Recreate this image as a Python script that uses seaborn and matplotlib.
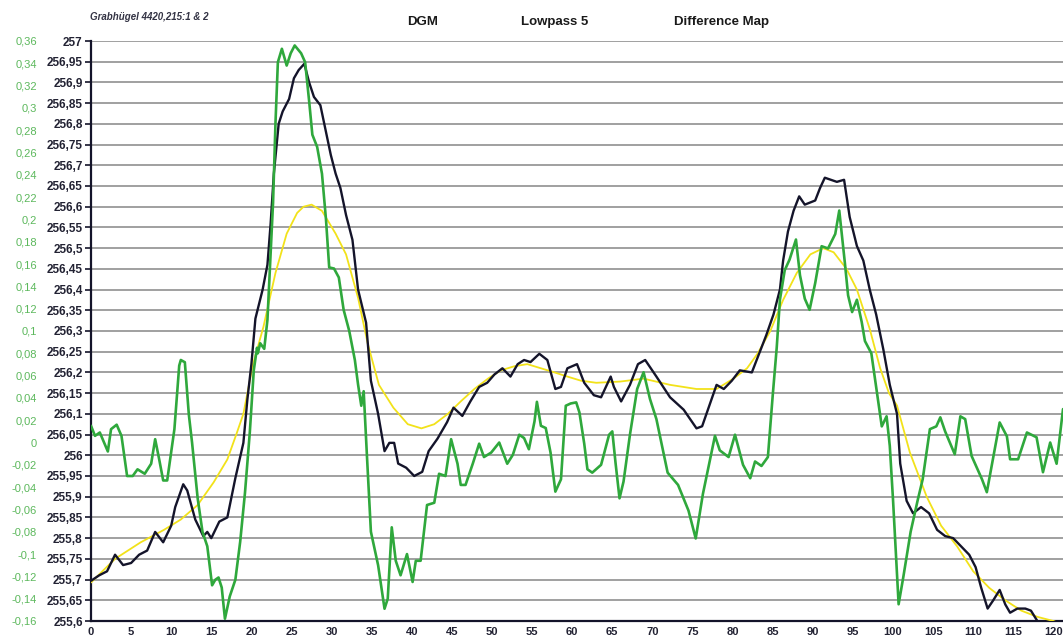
import numpy as np
import pandas as pd
import matplotlib
matplotlib.use("Agg")
import matplotlib.pyplot as plt
import seaborn as sns

# DGM profile (left axis, m)
dgm_x = [0, 1, 2, 3, 4, 5, 6, 7, 8, 9, 10, 10.5, 11.5, 12, 13, 14, 14.5, 15, 16, 17,
         18, 19, 19.5, 20, 20.5, 21.4, 22, 22.4, 22.8, 23.4, 23.9, 24.7, 25.3, 25.9, 26.6,
         27.2, 27.8, 28.6, 29.3, 29.9, 30.5, 31.1, 31.8, 32.6, 33.3, 34.3, 34.9, 35.8, 36.6,
         37.2, 37.8, 38.3, 39.3, 40.3, 41.3, 42.1, 43.2, 44.4, 45.2, 46.3, 47.3, 48.4, 49.4,
         50.3, 51.3, 52.3, 53.2, 54.0, 54.8, 55.9, 56.9, 57.9, 58.6, 59.4, 60.6, 61.5, 62.7,
         63.6, 64.8, 65.2, 66.1, 67.2, 68.2, 69.1, 70.5, 72.2, 73.9, 75.5, 76.2, 78.0, 78.9,
         79.9, 80.9, 82.4, 83.4, 84.2, 85.1, 85.9, 86.3, 86.9, 87.6, 88.3, 89.0, 90.3, 90.9,
         91.5, 93.0, 93.9, 94.6, 95.5, 96.3, 97.1, 97.9, 98.8, 99.6, 100.5, 100.9, 101.7,
         102.5, 103.5, 104.5, 105.5, 106.5, 107.5, 108.5, 109.5, 110.3, 111.0, 111.8, 112.5,
         113.3, 114.0, 114.6, 115.5, 116.5, 117.2, 118.0, 119.0, 120.0]
dgm_y = [255.697, 255.71, 255.72, 255.76, 255.735, 255.74, 255.76, 255.77, 255.815, 255.79,
         255.83, 255.875, 255.93, 255.915, 255.845, 255.805, 255.815, 255.80, 255.84, 255.85,
         255.945, 256.03, 256.135, 256.22, 256.33, 256.4, 256.46, 256.56, 256.68, 256.8,
         256.83, 256.86, 256.91, 256.93, 256.945, 256.9, 256.865, 256.845, 256.78, 256.725,
         256.68, 256.645, 256.58, 256.52, 256.4, 256.32, 256.18, 256.1, 256.01, 256.03,
         256.03, 255.98, 255.97, 255.95, 255.96, 256.01, 256.04, 256.08, 256.115, 256.095,
         256.13, 256.165, 256.175, 256.195, 256.21, 256.19, 256.22, 256.23, 256.225, 256.245,
         256.23, 256.16, 256.165, 256.21, 256.22, 256.175, 256.145, 256.14, 256.19, 256.165,
         256.13, 256.17, 256.22, 256.23, 256.19, 256.14, 256.11, 256.065, 256.07, 256.17,
         256.16, 256.18, 256.205, 256.2, 256.25, 256.29, 256.34, 256.4, 256.47, 256.54,
         256.59, 256.625, 256.605, 256.615, 256.645, 256.67, 256.66, 256.665, 256.575,
         256.505, 256.47, 256.4, 256.34, 256.255, 256.17, 256.10, 255.98, 255.89, 255.86,
         255.875, 255.86, 255.82, 255.805, 255.80, 255.78, 255.76, 255.73, 255.68, 255.63,
         255.65, 255.675, 255.64, 255.62, 255.63, 255.63, 255.625, 255.60, 255.595, 255.58]

# Lowpass 5 (left axis, m)
lp_x = [0, 3, 6.2, 9.1, 11.2, 13.3, 15.3, 17, 18.2, 19.0, 20.2, 21.5, 23.0, 24.4, 25.7,
        26.5, 27.5, 28.8, 30.5, 31.8, 33.3, 34.5, 35.9, 37.7, 39.5, 41.2, 42.8, 44.5, 46.1,
        47.8, 49.5, 51.1, 52.8, 54.4, 56.1, 57.8, 59.4, 61.1, 63.0, 66.0, 68.9, 72.2, 75.5,
        78.0, 80.1, 81.8, 83.1, 84.7, 86.3, 88.0, 89.7, 91.3, 92.6, 94.2, 95.5, 97.1, 98.4,
        99.5, 100.5, 102.1, 104.2, 106, 108, 110, 112, 114, 116, 118, 120, 121.3]
lp_y = [255.693, 255.75, 255.79, 255.82, 255.845, 255.88, 255.935, 255.99, 256.055, 256.1,
        256.22, 256.31, 256.44, 256.535, 256.585, 256.6, 256.605, 256.59, 256.535, 256.485,
        256.38, 256.27, 256.17, 256.115, 256.075, 256.065, 256.075, 256.1, 256.13, 256.16,
        256.185, 256.205, 256.215, 256.22, 256.21, 256.2, 256.19, 256.18, 256.175, 256.178,
        256.185, 256.17, 256.16, 256.16, 256.185, 256.21, 256.245, 256.3, 256.375, 256.44,
        256.485, 256.5, 256.49, 256.45, 256.4, 256.305, 256.21, 256.15, 256.12, 256.007,
        255.9, 255.83, 255.78, 255.72, 255.68, 255.65, 255.625, 255.61, 255.6, 255.59]

# Difference map (green axis)
diff_x = [0, 0.5, 1.1, 2.1, 2.5, 3.2, 3.8, 4.5, 5.2, 5.8, 6.7, 7.5, 8.0, 8.5, 9.0, 9.5,
          10.4, 11.0, 11.2, 11.7, 12.2, 12.6, 13.3, 13.9, 14.5, 15.1, 15.5, 15.9, 16.3, 16.7,
          17.3, 18.0, 18.6, 19.2, 19.8, 20.3, 20.7, 20.8, 21.1, 21.6, 22.0, 22.4, 22.7, 23.0,
          23.3, 23.8, 24.4, 24.9, 25.4, 26.2, 26.7, 27.2, 27.6, 28.2, 28.8, 29.3, 29.7, 30.3,
          30.9, 31.5, 32.2, 32.9, 33.3, 33.7, 34.0, 34.4, 34.9, 35.8, 36.6, 37.0, 37.5, 38.0,
          38.6, 39.4, 40.1, 40.5, 41.1, 41.9, 42.8, 43.4, 44.2, 44.9, 45.7, 46.1, 46.7, 47.6,
          48.4, 49.0, 49.9, 50.9, 51.9, 52.6, 53.4, 54.0, 54.6, 55.3, 55.6, 56.1, 56.7, 57.3,
          57.9, 58.6, 59.2, 59.8, 60.5, 60.9, 61.5, 61.9, 62.5, 63.6, 64.6, 65.0, 65.4, 65.9,
          66.4, 67.2, 68.1, 68.9, 69.7, 70.5, 71.9, 73.2, 74.5, 75.4, 76.3, 77.8, 78.4, 79.5,
          80.3, 81.3, 82.2, 82.8, 83.6, 84.4, 85.0, 85.5, 85.9, 86.5, 87.1, 87.9, 88.4, 89.0,
          89.6, 90.3, 91.1, 91.9, 92.8, 93.3, 94.0, 94.4, 94.9, 95.5, 96.1, 96.5, 97.3, 97.9,
          98.6, 99.2, 99.6, 100.0, 100.7, 101.3, 102.2, 103.1, 103.7, 104.6, 105.4, 105.9,
          106.5, 107.7, 108.4, 109.0, 109.8, 111.1, 111.7, 113.3, 114.2, 114.6, 115.6, 116.7,
          117.9, 118.7, 119.6, 120.4, 121.2]
diff_y = [0.015, 0.006, 0.009, -0.008, 0.012, 0.016, 0.006, -0.03, -0.03, -0.024, -0.028,
          -0.019, 0.003, -0.015, -0.034, -0.034, 0.012, 0.069, 0.074, 0.072, 0.025, 0.0,
          -0.05, -0.08, -0.093, -0.128, -0.123, -0.121, -0.13, -0.158, -0.138, -0.123, -0.089,
          -0.045, 0.009, 0.065, 0.085, 0.080, 0.089, 0.084, 0.11, 0.171, 0.215, 0.286, 0.341,
          0.353, 0.338, 0.349, 0.356, 0.349, 0.341, 0.306, 0.276, 0.265, 0.241, 0.2, 0.157,
          0.156, 0.148, 0.119, 0.1, 0.074, 0.052, 0.033, 0.046, -0.011, -0.08, -0.11, -0.149,
          -0.14, -0.076, -0.106, -0.119, -0.1, -0.125, -0.106, -0.106, -0.056, -0.054, -0.028,
          -0.030, 0.003, -0.019, -0.038, -0.038, -0.019, -0.001, -0.013, -0.009, 0.0, -0.019,
          -0.011, 0.007, 0.004, -0.006, 0.019, 0.0365, 0.015, 0.013, -0.009, -0.044, -0.033,
          0.033, 0.035, 0.036, 0.027, -0.001, -0.024, -0.027, -0.02, 0.007, 0.010, -0.018,
          -0.05, -0.035, 0.007, 0.048, 0.063, 0.039, 0.021, -0.027, -0.038, -0.061, -0.086,
          -0.046, 0.006, -0.007, -0.013, 0.007, -0.02, -0.032, -0.017, -0.021, -0.013, 0.042,
          0.085, 0.128, 0.1545, 0.164, 0.182, 0.150, 0.129, 0.119, 0.143, 0.176, 0.174, 0.187,
          0.208, 0.161, 0.132, 0.117, 0.128, 0.108, 0.091, 0.080, 0.05, 0.0145, 0.0235, -0.003,
          -0.051, -0.145, -0.12, -0.08, -0.051, -0.033, 0.012, 0.0145, 0.0226, 0.01, -0.0105,
          0.0235, 0.021, -0.012, -0.033, -0.0445, 0.018, 0.0056, -0.015, -0.015, 0.009,
          0.0047, -0.0266, 0.0, -0.019, 0.03]

left_ticks = np.round(np.arange(255.6, 257.001, 0.05), 2)
green_ticks = np.round(np.arange(-0.16, 0.3601, 0.02), 2)
x_ticks = np.arange(0, 121, 5)

DARK = "#14142a"
GREEN = "#2fa83c"
GREEN_TXT = "#5cb85c"
YELLOW = "#f2e21a"


def comma(v):
    # German style decimals, no "-0"
    v = float(v) + 0.0
    if abs(v) < 1e-9:
        v = 0.0
    return f"{v:g}".replace(".", ",")


sns.set_style("white")
plt.rcParams["font.family"] = ["Liberation Sans", "DejaVu Sans"]

fig = plt.figure(figsize=(10.63, 6.4), dpi=100)
# axis runs past the right edge of the picture, like the cropped original
ax = fig.add_axes([91 / 1063, 19 / 640, 8.02 * 125 / 1063, 580 / 640])

sns.lineplot(x=dgm_x, y=dgm_y, ax=ax, color=DARK, lw=1.7, sort=False,
             estimator=None, zorder=4)
sns.lineplot(x=lp_x, y=lp_y, ax=ax, color=YELLOW, lw=1.3, sort=False,
             estimator=None, zorder=3)

ax.set_xlim(0, 125)
ax.set_ylim(255.6, 257)
ax.set_yticks(left_ticks)
ax.set_yticklabels([comma(v) for v in left_ticks],
                   fontsize=8.5, fontweight="bold", color="#222233")
ax.set_xticks(x_ticks)
ax.set_xticklabels([str(v) for v in x_ticks], fontsize=8, fontweight="bold",
                   color="#222233")
ax.tick_params(axis="y", direction="out", length=4, width=1.2, color=DARK, pad=2)
ax.tick_params(axis="x", direction="out", length=3, width=1.2, color=DARK, pad=1)
ax.grid(axis="y", color="#a0a0a0", lw=1.4)
ax.grid(axis="x", visible=False)
for s in ["top", "right"]:
    ax.spines[s].set_visible(False)
for s in ["left", "bottom"]:
    ax.spines[s].set_color(DARK)
    ax.spines[s].set_linewidth(1.6)

ax2 = ax.twinx()
sns.lineplot(x=diff_x, y=diff_y, ax=ax2, color=GREEN, lw=1.9, sort=False,
             estimator=None)
ax2.set_ylim(-0.16, 0.36)
ax2.yaxis.tick_left()
ax2.set_yticks(green_ticks)
ax2.set_yticklabels([comma(v) for v in green_ticks], fontsize=8, color=GREEN_TXT)
ax2.tick_params(axis="y", length=0, pad=39)
ax2.set_ylabel("")
for s in ax2.spines.values():
    s.set_visible(False)

fig.text(90 / 1063, 1 - 17 / 640, "Grabhügel 4420,215:1 & 2", fontsize=7,
         fontstyle="italic", fontweight="bold", color="#333344", va="center")
for label, cx in [("DGM", 423), ("Lowpass 5", 555), ("Difference Map", 722)]:
    fig.text(cx / 1063, 1 - 22 / 640, label, fontsize=9.5, fontweight="bold",
             color="#1a1a1a", ha="center", va="center")

fig.savefig("out.png", dpi=100)
